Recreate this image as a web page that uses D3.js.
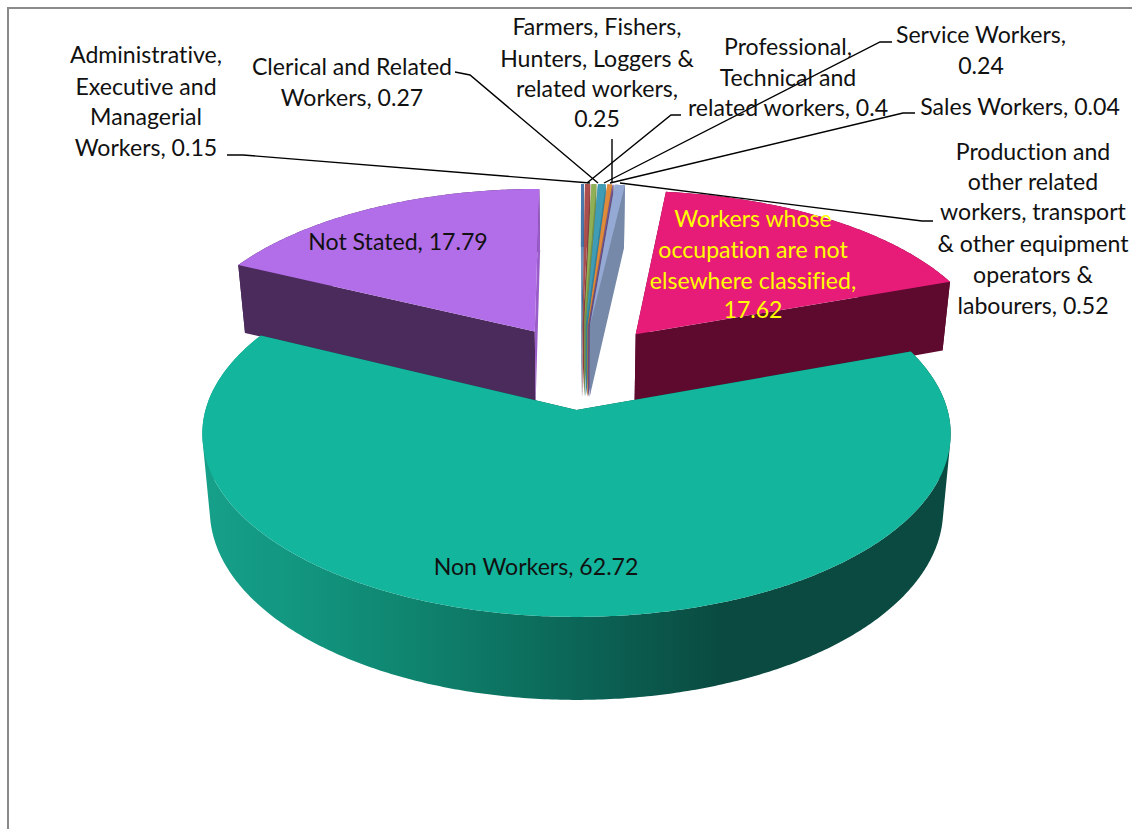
<!DOCTYPE html>
<html><head><meta charset="utf-8">
<script src="https://cdn.jsdelivr.net/npm/d3@7"></script>
<style>html,body{margin:0;padding:0;background:#fff}svg{display:block}text{font-family:Lato,"Open Sans",sans-serif;font-size:23.1px;fill:#111;text-anchor:middle;font-variant-ligatures:none}</style>
</head><body><div id="c"></div>
<script>
// data
const categories=["Administrative, Executive and Managerial Workers","Clerical and Related Workers","Farmers, Fishers, Hunters, Loggers & related workers","Professional, Technical and related workers","Service Workers","Sales Workers","Production and other related workers, transport & other equipment operators & labourers","Workers whose occupation are not elsewhere classified","Non Workers","Not Stated"];
const values=[0.15,0.27,0.25,0.4,0.24,0.04,0.52,17.62,62.72,17.79];
const topColors=["#4a7bb0","#aa4f4d","#8fb054","#3f9cb4","#e08a3c","#7d5fa0","#94a9d3","#e61c78","#13b59c","#b26ee8"];
const wallColors=["#3c648f","#8a3f3e","#73904a","#33809a","#b87030","#654d82","#7789a8","#5e0a2f","url(#rim)","#4b2a5c"];
// label text wrapped as in the picture
const labelLines=[["Administrative,","Executive and","Managerial","Workers, 0.15"],["Clerical and Related","Workers, 0.27"],["Farmers, Fishers,","Hunters, Loggers &","related workers,","0.25"],["Professional,","Technical and","related workers, 0.4"],["Service Workers,","0.24"],["Sales Workers, 0.04"],["Production and","other related","workers, transport","& other equipment","operators &","labourers, 0.52"],["Workers whose","occupation are not","elsewhere classified,","17.62"],["Non Workers, 62.72"],["Not Stated, 17.79"]];
// layout
const W=1132,H=829;
const labelPos=[[146,[63,95,125,156]],[352,[75,106]],[597,[35,67,97,127]],[788,[55,86,116]],[981,[43,74]],[1020,[115]],[1033,[160,190,220,252,283,314]],[753,[227,258,289,318]],[536,[575]],[398,[250]]];
const leaders=[[[227,155],[243,155],[590,183]],[[455,72],[470,75],[598,183]],[[612,139],[612,183]],[[681,115],[671,115],[587,183]],[[892,42],[880,42],[604,183]],[[915,113],[903,113],[610,183]],[[933,221],[922,221],[620,183]]];
const labelColors=values.map((v,i)=>i===7?"#ffff00":"#111");

const cx=576.5,cy=410,a=371,b=180,k=0.13,shrink=0.98,explode=0.25;
function project(u,v,z){const w=1-k*v;const s=z?shrink:1;return [cx+a*u/w*s,cy+b*v/w+(z?75+8*v:0)];}

const svg=d3.select("#c").append("svg").attr("width",W).attr("height",H);
const grad=svg.append("defs").append("linearGradient").attr("id","rim").attr("gradientUnits","userSpaceOnUse").attr("x1",200).attr("x2",950).attr("y1",0).attr("y2",0);
[[0,"#16a08a"],[0.13,"#129680"],[0.27,"#0f8670"],[0.52,"#0b6355"],[0.70,"#0a4a40"],[1,"#0a4a40"]].forEach(s=>grad.append("stop").attr("offset",s[0]).attr("stop-color",s[1]));
svg.append("path").attr("d",`M8,${H}V8H${W}`).attr("fill","none").attr("stroke","#8a8a8a").attr("stroke-width",2);

const arcs=d3.pie().sort(null).value(d=>d).startAngle(0).endAngle(2*Math.PI)(values);
const line=d3.line();
const dir=t=>[Math.sin(t),-Math.cos(t)];
const mid=d=>(d.startAngle+d.endAngle)/2;
const nw=dir(mid(arcs[8]));
const origin=[-nw[0]*explode,-nw[1]*explode];
const slices=arcs.map((d,i)=>{
  const e=dir(mid(d));const c=[origin[0]+e[0]*explode,origin[1]+e[1]*explode];
  const n=Math.max(3,Math.ceil((d.endAngle-d.startAngle)/0.01));
  const ang=d3.range(n+1).map(j=>d.startAngle+(d.endAngle-d.startAngle)*j/n);
  const rim=ang.map(t=>{const p=dir(t);return [c[0]+p[0],c[1]+p[1]];});
  return {i,c,rim};
});
const drawOrder=[0,1,2,3,4,5,6,9,7,8];
const g=svg.append("g");
drawOrder.forEach(i=>{
  const s=slices[i];
  const topRim=s.rim.map(p=>project(p[0],p[1],0));
  const botRim=s.rim.map(p=>project(p[0],p[1],1));
  const apexT=project(s.c[0],s.c[1],0),apexB=project(s.c[0],s.c[1],1);
  const last=s.rim.length-1;
  const wall=(pts,col)=>g.append("path").attr("d",line(pts)+"Z").attr("fill",col);
  // rim wall: all swept quads wound the same way in one path, so they merge without seams
  const quads=d3.range(last).map(j=>{
    const q=[topRim[j],topRim[j+1],botRim[j+1],botRim[j]];
    return line(d3.polygonArea(q)<0?q.reverse():q)+"Z";
  }).join("");
  g.append("path").attr("d",quads).attr("fill",wallColors[i]);
  const flat=i===8?"#0a4a40":wallColors[i];
  wall([apexT,topRim[0],botRim[0],apexB],flat);
  wall([apexT,topRim[last],botRim[last],apexB],i===9?"#9a5cc8":flat);
  g.append("path").attr("d",line([apexT].concat(topRim))+"Z").attr("fill",topColors[i]);
});
svg.append("g").selectAll("path").data(leaders).join("path").attr("d",d=>line(d)).attr("fill","none").attr("stroke","#000").attr("stroke-width",1.4);
labelLines.forEach((ls,i)=>{
  const [x,ys]=labelPos[i];
  svg.append("g").selectAll("text").data(ls).join("text").attr("x",x).attr("y",(d,j)=>ys[j]).style("fill",labelColors[i]).text(d=>d);
});
</script></body></html>
